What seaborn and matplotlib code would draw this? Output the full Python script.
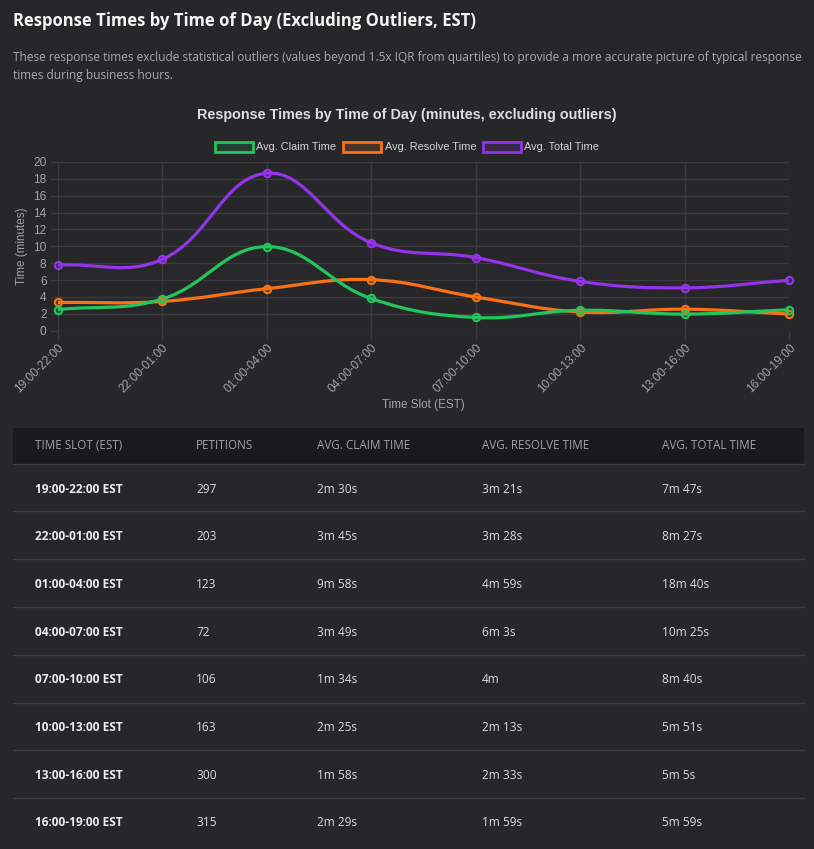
import numpy as np
import pandas as pd
import matplotlib
matplotlib.use("Agg")
import matplotlib.pyplot as plt
from matplotlib.path import Path
from matplotlib.patches import PathPatch, Patch, Rectangle
import seaborn as sns

# Data
slots = ["19:00-22:00", "22:00-01:00", "01:00-04:00", "04:00-07:00",
         "07:00-10:00", "10:00-13:00", "13:00-16:00", "16:00-19:00"]
petitions = [297, 203, 123, 72, 106, 163, 300, 315]
claim_min = [2.50, 3.75, 9.97, 3.82, 1.57, 2.42, 1.97, 2.48]
resolve_min = [3.35, 3.47, 4.98, 6.05, 4.00, 2.22, 2.55, 1.98]
total_min = [7.78, 8.45, 18.67, 10.42, 8.67, 5.85, 5.08, 5.98]
claim_txt = ["2m 30s", "3m 45s", "9m 58s", "3m 49s", "1m 34s", "2m 25s", "1m 58s", "2m 29s"]
resolve_txt = ["3m 21s", "3m 28s", "4m 59s", "6m 3s", "4m", "2m 13s", "2m 33s", "1m 59s"]
total_txt = ["7m 47s", "8m 27s", "18m 40s", "10m 25s", "8m 40s", "5m 51s", "5m 5s", "5m 59s"]
headers = ["TIME SLOT (EST)", "PETITIONS", "AVG. CLAIM TIME", "AVG. RESOLVE TIME", "AVG. TOTAL TIME"]

BG = "#27272a"
GRID = "#3a3a3f"
TICK = "#a1a1aa"
series = [
    ("Avg. Claim Time", claim_min, "#22c55e"),
    ("Avg. Resolve Time", resolve_min, "#f97316"),
    ("Avg. Total Time", total_min, "#9333ea"),
]

sns.set_theme(style="dark")
plt.rcParams["font.family"] = ["Liberation Sans", "DejaVu Sans"]

W, H = 814, 849
fig = plt.figure(figsize=(W / 100, H / 100), dpi=100, facecolor=BG)

# overlay in pixel coords for page text and the table
page = fig.add_axes([0, 0, 1, 1], zorder=0)
page.set_xlim(0, W)
page.set_ylim(H, 0)
page.axis("off")

ui = ["Open Sans", "DejaVu Sans"]
page.text(13, 21, "Response Times by Time of Day (Excluding Outliers, EST)",
          fontsize=12.0, fontweight="bold", color="#f4f4f5", family=ui, va="center")
page.text(13, 57, "These response times exclude statistical outliers (values beyond 1.5x IQR from quartiles) "
          "to provide a more accurate picture of typical response", fontsize=8.6, color="#a8a8b0",
          family=ui, va="center")
page.text(13, 75, "times during business hours.", fontsize=8.6, color="#a8a8b0", family=ui, va="center")

page.text(W / 2, 115, "Response Times by Time of Day (minutes, excluding outliers)",
          fontsize=10.4, fontweight="bold", color="#dedee2", ha="center", va="center")

# table
col_x = [35, 196, 317, 482, 662]
page.add_patch(Rectangle((13, 428), 791, 36, facecolor="#1a1a1d", edgecolor="none"))
for x, h in zip(col_x, headers):
    page.text(x, 445, h, fontsize=8.4, color="#a1a1aa", family=ui, va="center")
line_y = [464, 511, 559, 607, 655, 703, 750, 798]
for y in line_y:
    page.plot([13, 804], [y, y], color="#3c3c42", lw=1)
for i in range(len(slots)):
    y = 489 + 47.7 * i
    page.text(col_x[0], y, slots[i] + " EST", fontsize=8.6, fontweight="bold", color="#ececef",
              family=ui, va="center")
    row = [str(petitions[i]), claim_txt[i], resolve_txt[i], total_txt[i]]
    for x, v in zip(col_x[1:], row):
        page.text(x, y, v, fontsize=8.6, color="#dcdce0", family=ui, va="center")

# chart
x0, x1, y0, y1 = 57.7, 789, 162, 330.7
ax = fig.add_axes([x0 / W, 1 - y1 / H, (x1 - x0) / W, (y1 - y0) / H], zorder=1)
ax.set_facecolor("none")
ax.set_xlim(0, len(slots) - 1)
ax.set_ylim(0, 20)
ax.set_yticks(range(0, 21, 2))
ax.set_xticks(range(len(slots)))
ax.set_xticklabels(slots, rotation=45, ha="right", va="top", rotation_mode="anchor")
ax.tick_params(axis="both", colors=GRID, labelcolor=TICK, labelsize=8.6, length=6, width=1,
               bottom=True, left=True, pad=2)
ax.grid(True, color=GRID, lw=1)
for s in ax.spines.values():
    s.set_visible(False)

# pixel scale for chart.js style spline weights
sx = (x1 - x0) / (len(slots) - 1)
sy = (y1 - y0) / 20.0
tension = 0.4
xs = np.arange(len(slots), dtype=float)

rows = []
for z, (name, vals, col) in enumerate(series):
    ys = np.array(vals, dtype=float)
    n = len(ys)
    cps = []
    for i in range(n):
        p = i - 1 if i > 0 else i
        q = i + 1 if i < n - 1 else i
        d01 = np.hypot((xs[i] - xs[p]) * sx, (ys[i] - ys[p]) * sy)
        d12 = np.hypot((xs[q] - xs[i]) * sx, (ys[q] - ys[i]) * sy)
        s01 = d01 / (d01 + d12)
        s12 = d12 / (d01 + d12)
        dx, dy = xs[q] - xs[p], ys[q] - ys[p]
        cps.append(((xs[i] - tension * s01 * dx, ys[i] - tension * s01 * dy),
                    (xs[i] + tension * s12 * dx, ys[i] + tension * s12 * dy)))
    verts = [(xs[0], ys[0])]
    codes = [Path.MOVETO]
    for i in range(1, n):
        verts += [cps[i - 1][1], cps[i][0], (xs[i], ys[i])]
        codes += [Path.CURVE4] * 3
    ax.add_patch(PathPatch(Path(verts, codes), facecolor="none", edgecolor=col, lw=2.3,
                           zorder=5 - z, capstyle="round", joinstyle="round"))
    for i in range(n):
        rows.append({"slot": i, "minutes": vals[i], "series": name})

df = pd.DataFrame(rows)
for z, (name, _, col) in enumerate(series):
    sub = df[df["series"] == name]
    sns.scatterplot(data=sub, x="slot", y="minutes", ax=ax, s=28, color=col + "33",
                    edgecolor=col, linewidth=1.5, zorder=6 - z, legend=False, clip_on=False)
ax.set_xlabel("Time Slot (EST)", color=TICK, fontsize=8.4, labelpad=3)
ax.set_ylabel("Time (minutes)", color=TICK, fontsize=8.4)
ax.yaxis.set_label_coords(-(x0 - 28) / (x1 - x0), 0.5)

handles = [Patch(facecolor=col + "26", edgecolor=col, lw=2, label=name) for name, _, col in series]
fig.legend(handles=handles, loc="center", bbox_to_anchor=(0.5, 1 - 147 / H), ncol=3,
           frameon=False, fontsize=7.9, labelcolor="#d4d4d8", handlelength=3.5, handleheight=1.1,
           handletextpad=0.3, columnspacing=0.6)

fig.savefig("out.png", dpi=100, facecolor=BG)
